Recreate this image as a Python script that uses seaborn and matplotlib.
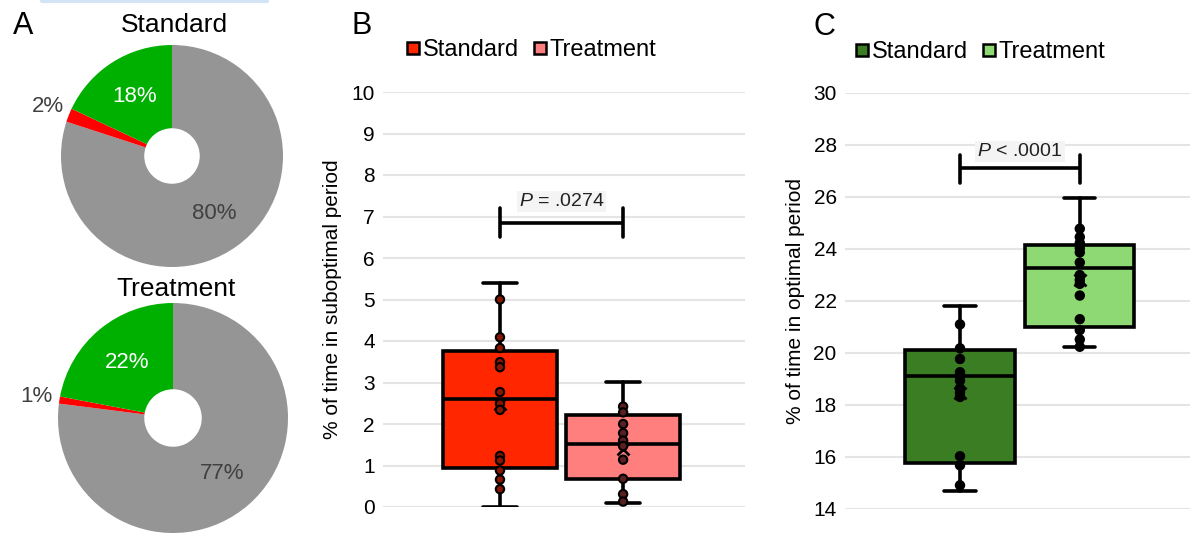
import numpy as np
import pandas as pd
import matplotlib
matplotlib.use("Agg")
import matplotlib.pyplot as plt
import seaborn as sns
from matplotlib.lines import Line2D

sns.set_style("white")
plt.rcParams['font.family'] = ['Liberation Sans', 'DejaVu Sans']
plt.rcParams['mathtext.fontset'] = 'custom'
plt.rcParams['mathtext.it'] = 'Liberation Sans:italic'
plt.rcParams['mathtext.rm'] = 'Liberation Sans'
plt.rcParams['text.color'] = 'black'
plt.rcParams['axes.labelcolor'] = 'black'

# ---------------- data ----------------
groups = ["Standard", "Treatment"]

# panel A: share of time (gray = other, red = suboptimal, green = optimal)
pie_colors = ["#959595", "#FF0000", "#00B000"]
pie_text_colors = ["#404040", "#404040", "white"]
pie_label_dist = [0.64, 1.2, 0.63]
standard_pie = [80, 2, 18]
treatment_pie = [77, 1, 22]

# panel B: % of time in suboptimal period
sub_std_pts = [5.0, 4.09, 3.83, 3.49, 3.37, 2.77, 2.49, 2.34, 1.23, 1.12, 0.88, 0.66, 0.43]
sub_trt_pts = [2.42, 2.28, 2.0, 1.78, 1.60, 1.47, 1.14, 0.68, 0.31, 0.13]
sub_q1 = [0.95, 0.67]
sub_med = [2.61, 1.52]
sub_q3 = [3.77, 2.22]
sub_lo = [0.0, 0.10]
sub_hi = [5.40, 3.02]
sub_mean = [2.49, 1.40]
sub_colors = ["#FF2600", "#FF7F7F"]
sub_dot_faces = ["#8a1500", "#5a2020"]

# panel C: % of time in optimal period
opt_std_pts = [21.10, 20.18, 19.77, 19.26, 19.11, 18.94, 18.65, 18.48, 18.31, 16.03, 15.68, 14.91]
opt_trt_pts = [24.78, 24.46, 24.23, 24.03, 23.87, 23.48, 23.0, 22.81, 22.66, 22.21,
               21.30, 20.88, 20.52, 20.24]
opt_q1 = [15.77, 21.0]
opt_med = [19.12, 23.26]
opt_q3 = [20.10, 24.16]
opt_lo = [14.69, 20.24]
opt_hi = [21.81, 25.96]
opt_mean = [18.48, 22.81]
opt_colors = ["#3A7D22", "#8ED973"]

W, H = 1195, 534
fig = plt.figure(figsize=(W / 100, H / 100), dpi=100)


def px_axes(x0, y0, w, h):
    # axes from pixel box (top-left origin)
    return fig.add_axes([x0 / W, 1 - (y0 + h) / H, w / W, h / H])


# ---------------- panel A ----------------
def donut(ax, values):
    wedges, _ = ax.pie(values, colors=pie_colors, startangle=90, counterclock=False,
                       wedgeprops=dict(width=0.75, linewidth=0))
    for w, v, tc, d in zip(wedges, values, pie_text_colors, pie_label_dist):
        ang = np.deg2rad((w.theta1 + w.theta2) / 2)
        ax.text(d * np.cos(ang), d * np.sin(ang), f"{v}%", ha="center", va="center",
                fontsize=16, color=tc)
    ax.set_xlim(-1, 1)
    ax.set_ylim(-1, 1)
    ax.set_aspect("equal")


ax_a1 = px_axes(61, 45, 222, 222)
donut(ax_a1, standard_pie)
ax_a2 = px_axes(58, 303, 230, 230)
donut(ax_a2, treatment_pie)
fig.text(174 / W, 1 - 25 / H, "Standard", ha="center", va="center", fontsize=19)
fig.text(176 / W, 1 - 289 / H, "Treatment", ha="center", va="center", fontsize=19)


# ---------------- panels B and C ----------------
def box_panel(ax, std_pts, trt_pts, q1, med, q3, lo, hi, mean, colors, width, capw,
              dot_face):
    stats = [dict(q1=a, med=b, q3=c, whislo=d, whishi=e, mean=f, fliers=[])
             for a, b, c, d, e, f in zip(q1, med, q3, lo, hi, mean)]
    bp = ax.bxp(stats, positions=[0, 1], widths=width, capwidths=capw,
                patch_artist=True, showmeans=True, showfliers=False,
                boxprops=dict(linewidth=2.6, edgecolor="black"),
                medianprops=dict(linewidth=2.6, color="black"),
                whiskerprops=dict(linewidth=2.6, color="black"),
                capprops=dict(linewidth=2.6, color="black"),
                meanprops=dict(marker="x", markeredgecolor="black", markersize=8,
                               markeredgewidth=2))
    for patch, c in zip(bp["boxes"], colors):
        patch.set_facecolor(c)
        patch.set_zorder(2)
    df = pd.DataFrame({
        "group": [groups[0]] * len(std_pts) + [groups[1]] * len(trt_pts),
        "value": std_pts + trt_pts,
    })
    pal = dot_face if dot_face is not None else ["black", "black"]
    sns.stripplot(data=df, x="group", y="value", hue="group", order=groups,
                  palette=pal, jitter=False, size=6, edgecolor="black", linewidth=1.5,
                  legend=False, ax=ax, zorder=5)
    ax.set_xlabel("")
    ax.set_xticks([])
    sns.despine(ax=ax, left=True, bottom=True)
    ax.yaxis.grid(True, color="#e4e4e4", linewidth=1.5)
    ax.set_axisbelow(True)
    ax.tick_params(axis="y", length=0, labelsize=15, pad=6, labelcolor="black")
    handles = [Line2D([], [], marker="s", linestyle="none", markersize=9,
                      markerfacecolor=c, markeredgecolor="black", markeredgewidth=1.8)
               for c in colors]
    return handles


def bracket(ax, y, tick_lo, tick_hi, text_y, label):
    ax.plot([0, 1], [y, y], color="black", lw=2.6, zorder=6, solid_capstyle="butt")
    for xx in (0, 1):
        ax.plot([xx, xx], [tick_lo, tick_hi], color="black", lw=2.6, zorder=6)
    ax.text(0.5, text_y, label, ha="center", va="center", fontsize=14, color="#222222",
            bbox=dict(facecolor="#f4f4f4", edgecolor="none", pad=1.5))


# B
ax_b = px_axes(383, 92, 362, 415)
hb = box_panel(ax_b, sub_std_pts, sub_trt_pts, sub_q1, sub_med, sub_q3, sub_lo, sub_hi,
               sub_mean, sub_colors, 0.92, 0.27, sub_dot_faces)
ax_b.set_ylim(0, 10)
ax_b.set_yticks(range(0, 11))
ax_b.set_xlim(-0.95, 1.99)
ax_b.set_ylabel("% of time in suboptimal period", fontsize=15, labelpad=7)
bracket(ax_b, 6.84, 6.5, 7.2, 7.36, r"$\it{P}$ = .0274")
fig.legend(hb, groups, loc="center left", bbox_to_anchor=(406 / W, 1 - 50 / H),
           ncol=2, frameon=False, fontsize=17, handlelength=0.6, handletextpad=0.1,
           columnspacing=0.6, borderpad=0, borderaxespad=0)

# C
ax_c = px_axes(845, 93, 345, 416)
hc = box_panel(ax_c, opt_std_pts, opt_trt_pts, opt_q1, opt_med, opt_q3, opt_lo, opt_hi,
               opt_mean, opt_colors, 0.91, 0.26, None)
ax_c.set_ylim(14, 30)
ax_c.set_yticks(range(14, 31, 2))
ax_c.set_xlim(-0.96, 1.92)
ax_c.set_ylabel("% of time in optimal period", fontsize=15, labelpad=6)
bracket(ax_c, 27.11, 26.52, 27.6, 27.76, r"$\it{P}$ < .0001")
fig.legend(hc, groups, loc="center left", bbox_to_anchor=(855 / W, 1 - 52 / H),
           ncol=2, frameon=False, fontsize=17, handlelength=0.6, handletextpad=0.1,
           columnspacing=0.6, borderpad=0, borderaxespad=0)

# panel letters
fig.text(23 / W, 1 - 26 / H, "A", ha="center", va="center", fontsize=22)
fig.text(362 / W, 1 - 26 / H, "B", ha="center", va="center", fontsize=22)
fig.text(824 / W, 1 - 27 / H, "C", ha="center", va="center", fontsize=22)

# thin blue strip at the top left
fig.add_artist(Line2D([42 / W, 267 / W], [1 - 1 / H, 1 - 1 / H], color="#d3e4f7", lw=3))

fig.savefig("out.png", dpi=100)
